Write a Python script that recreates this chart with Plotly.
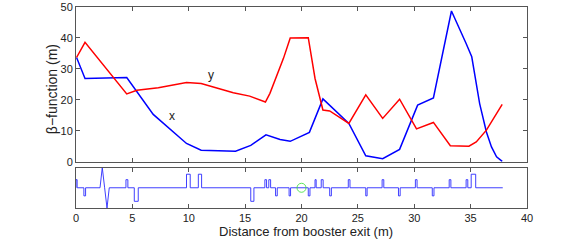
import plotly.graph_objects as go

s_x = [0.05,0.8,4.5,6.85,9.8,11.1,14.15,15.5,16.85,18.1,19.0,20.7,21.9,24.2,25.7,27.2,28.7,30.3,31.7,33.3,34.6,35.1,35.8,36.4,36.85,37.3,37.8]
beta_x = [33.7,26.9,27.2,15.3,5.9,3.7,3.4,5.3,8.7,7.2,6.6,9.5,20.3,12.4,1.9,1.0,4.0,18.3,20.6,48.7,38.2,33.9,18.8,9.6,4.8,1.6,0.1]
s_y = [0.05,0.8,4.5,5.4,7.3,9.8,11.1,13.95,15.4,16.8,17.2,18.4,19.0,20.6,21.2,21.9,22.5,24.2,25.7,27.2,28.7,30.2,31.7,33.2,34.85,35.5,36.4,37.8]
beta_y = [33.7,38.6,21.9,23.1,23.9,25.6,25.3,22.3,21.2,19.3,22.1,33.4,40.0,40.1,26.9,16.7,16.4,12.4,21.6,14.0,20.2,10.6,12.7,5.2,5.0,6.4,10.2,18.5]

el_start = [0.0,0.7,4.43,5.17,9.8,10.85,15.5,16.75,17.1,17.7,18.9,20.6,21.2,21.75,22.5,24.15,25.7,27.15,28.6,30.1,31.6,33.1,34.6,35.05]
el_end = [0.1,0.85,4.6,5.52,10.13,11.14,15.78,16.9,17.26,17.85,19.03,20.75,21.3,21.92,22.65,24.3,25.82,27.3,28.75,30.25,31.75,33.25,34.75,35.45]
el_height = [0.4,-0.4,0.4,-0.67,0.67,0.67,-0.67,0.4,0.4,-0.4,-0.4,-0.4,0.4,0.4,-0.4,0.4,-0.4,0.4,-0.4,0.4,-0.4,0.4,0.4,0.67]
bend_s = [2.13,2.33,2.54,2.75,2.95]
bend_k = [0,1,0,-1,0]
lattice_end = 37.85
marker_s = [20]
marker_k = [0]

lat_s, lat_k = [], []
bend_done = False
for a, b, h in zip(el_start, el_end, el_height):
    if not bend_done and a > bend_s[0]:
        lat_s += bend_s
        lat_k += bend_k
        bend_done = True
    lat_s += [a, a, b, b]
    lat_k += [0, h, h, 0]
lat_s.append(lattice_end)
lat_k.append(0)

FONT = "Liberation Sans, Arial, sans-serif"
INK = "#222222"
FRAME = "#555555"

# plot-area box in pixels
L, R, T, B = 76, 527.5, 7, 207.7
H = B - T
def fy(px):
    return 1 - (px - T) / H
def fx(px):
    return (px - L) / (R - L)

fig = go.Figure()
fig.add_trace(go.Scatter(x=s_x, y=beta_x, mode="lines", line=dict(color="#0000ff", width=1.5), xaxis="x", yaxis="y"))
fig.add_trace(go.Scatter(x=s_y, y=beta_y, mode="lines", line=dict(color="#ff0000", width=1.5), xaxis="x", yaxis="y"))
fig.add_trace(go.Scatter(x=lat_s, y=lat_k, mode="lines", line=dict(color="#2a2aff", width=0.9), xaxis="x2", yaxis="y2"))
fig.add_trace(go.Scatter(x=marker_s, y=marker_k, mode="markers", marker=dict(symbol="circle-open", size=9, color="#33dd33", line=dict(width=0.8, color="#33dd33")), xaxis="x2", yaxis="y2"))

ax = dict(range=[0, 40], showgrid=False, zeroline=False, showline=True, mirror="ticks", linecolor=FRAME, linewidth=1,
          ticks="inside", ticklen=4, tickcolor=FRAME, tickwidth=1, dtick=5, tick0=0, automargin=False,
          tickfont=dict(family=FONT, size=11, color=INK))

LABEL = dict(family=FONT, size=14, color=INK)
fig.update_layout(
    width=581, height=241, autosize=False, showlegend=False,
    paper_bgcolor="white", plot_bgcolor="white",
    margin=dict(l=L, r=581-R, t=T, b=241-B, pad=0),
    font=dict(family=FONT, color=INK),
    xaxis=dict(ax, domain=[0, 1], anchor="y", showticklabels=False),
    yaxis=dict(domain=[fy(161.5), fy(7)], range=[0, 50], anchor="x", showgrid=False, zeroline=False, showline=True, mirror="ticks",
               linecolor=FRAME, linewidth=1, ticks="inside", ticklen=4, tickcolor=FRAME, dtick=10, automargin=False,
               tickfont=dict(family=FONT, size=11, color=INK)),
    xaxis2=dict(ax, domain=[0, 1], anchor="y2"),
    yaxis2=dict(domain=[fy(207.7), fy(167.3)], range=[-1, 1], anchor="x2", showgrid=False, zeroline=False, showline=True, mirror=True,
                linecolor=FRAME, linewidth=1, ticks="", showticklabels=False, automargin=False),
    annotations=[
        dict(x=8.5, y=14.8, xref="x", yref="y", text="x", showarrow=False, font=dict(family=FONT, size=12, color=INK)),
        dict(x=12.0, y=28.0, xref="x", yref="y", text="y", showarrow=False, font=dict(family=FONT, size=12, color=INK)),
        dict(x=fx(52), y=fy(89), xref="paper", yref="paper", xanchor="center", yanchor="middle", text="β−function (m)",
             textangle=-90, showarrow=False, font=LABEL),
        dict(x=fx(306.5), y=fy(231), xref="paper", yref="paper", xanchor="center", yanchor="middle",
             text="Distance from booster exit (m)", showarrow=False, font=dict(family=FONT, size=13, color=INK)),
    ],
)
fig.write_html("out.html", config={"displayModeBar": False},
               post_script="document.body.style.margin='0';document.documentElement.style.overflow='hidden';")
